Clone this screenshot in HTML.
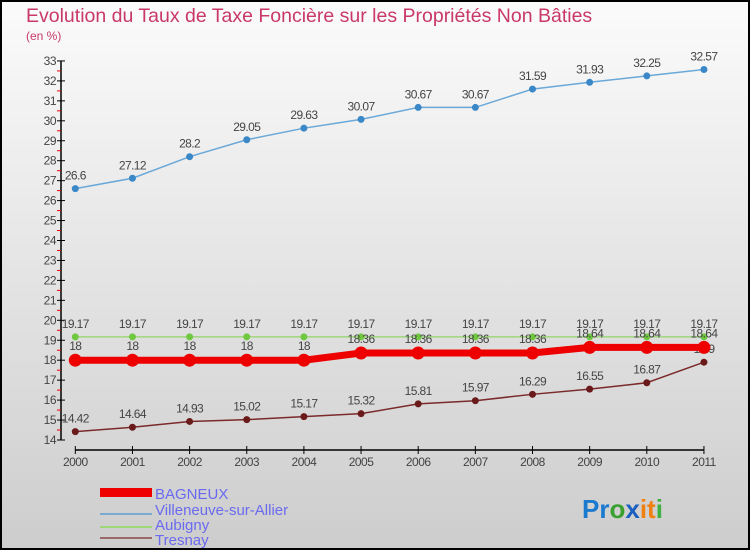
<!DOCTYPE html>
<html><head><meta charset="utf-8"><style>
body{margin:0;width:750px;height:550px;overflow:hidden}
svg{display:block;font-family:"Liberation Sans","DejaVu Sans",sans-serif}
</style></head><body>
<svg id="c" width="750" height="550">
<defs><linearGradient id="bg" x1="0" y1="0" x2="0" y2="1"><stop offset="0" stop-color="#fbfbfb"/><stop offset="1" stop-color="#cdcdcd"/></linearGradient></defs>
<rect x="1" y="1" width="748" height="548" fill="url(#bg)" stroke="#000" stroke-width="2"/>
<text x="26" y="22" font-size="19.5" fill="#c8386a">Evolution du Taux de Taxe Foncière sur les Propriétés Non Bâties</text>
<text x="26" y="40" font-size="12" fill="#c8386a">(en %)</text>
<g id="axes"></g><g id="series"></g>
<g>
<rect x="100" y="488" width="52" height="9" fill="#e00"/>
<text x="155" y="499" font-size="15" fill="#6a6af0">BAGNEUX</text>
<line x1="100" y1="514" x2="152" y2="514" stroke="#7aaad0" stroke-width="2"/>
<text x="155" y="515" font-size="15" fill="#6a6af0">Villeneuve-sur-Allier</text>
<line x1="100" y1="527" x2="152" y2="527" stroke="#9ed67a" stroke-width="2"/>
<text x="155" y="530" font-size="15" fill="#6a6af0">Aubigny</text>
<line x1="100" y1="538" x2="152" y2="538" stroke="#9a6a6a" stroke-width="2"/>
<text x="155" y="545" font-size="15" fill="#6a6af0">Tresnay</text>
</g>
<g font-size="26" font-weight="bold">
<text x="582" y="518"><tspan fill="#1a7ad0">Pr</tspan><tspan fill="#3aa030">o</tspan><tspan fill="#1a60c0">x</tspan><tspan fill="#f08010">it</tspan><tspan fill="#40b040">i</tspan></text>
</g>
</svg>
<script>
const years=["2000","2001","2002","2003","2004","2005","2006","2007","2008","2009","2010","2011"];
const yTicks=[14,15,16,17,18,19,20,21,22,23,24,25,26,27,28,29,30,31,32,33];
const bagneux=[18,18,18,18,18,18.36,18.36,18.36,18.36,18.64,18.64,18.64];
const bagneuxLabels=["18","18","18","18","18","18.36","18.36","18.36","18.36","18.64","18.64","18.64"];
const villeneuve=[26.6,27.12,28.2,29.05,29.63,30.07,30.67,30.67,31.59,31.93,32.25,32.57];
const aubigny=[19.17,19.17,19.17,19.17,19.17,19.17,19.17,19.17,19.17,19.17,19.17,19.17];
const tresnay=[14.42,14.64,14.93,15.02,15.17,15.32,15.81,15.97,16.29,16.55,16.87,17.9];
const NS="http://www.w3.org/2000/svg";
const X=i=>75.3+i*57.15;
const Y=v=>440-(v-14)*19.95;
function mk(tag,at,parent){const e=document.createElementNS(NS,tag);for(const k in at)e.setAttribute(k,at[k]);parent.appendChild(e);return e;}
const ax=document.getElementById('axes');
const yl=mk('line',{x1:61,y1:Y(33),x2:61,y2:Y(14),stroke:'#000','stroke-width':1.5},ax);


yTicks.forEach(t=>{
 mk('line',{x1:57,y1:Y(t),x2:65,y2:Y(t),stroke:'#000'},ax);
 if(t<33) mk('line',{x1:57,y1:Y(t+0.5),x2:61,y2:Y(t+0.5),stroke:'#e00'},ax);
 const tx=mk('text',{x:56,y:Y(t)+4,'font-size':12,fill:'#444','text-anchor':'end','letter-spacing':'-0.5'},ax);
 tx.textContent=t;
 
 
});
const xl=mk('line',{x1:X(0),y1:450,x2:X(11),y2:450,stroke:'#000','stroke-width':1.5},ax);


years.forEach((y,i)=>{
 mk('line',{x1:X(i),y1:446,x2:X(i),y2:454,stroke:'#000'},ax);
 const tx=mk('text',{x:X(i),y:466,'font-size':12,fill:'#444','text-anchor':'middle','letter-spacing':'-0.5'},ax);
 tx.textContent=y;
 
 
});
const sg=document.getElementById('series');
function series(name,vals,labels,color,w,r,dot,dy){
 const g=mk('g',{},sg);
 
 
 const pl=mk('polyline',{points:vals.map((v,i)=>X(i)+','+Y(v)).join(' '),fill:'none',stroke:color,'stroke-width':w},g);
 
 
 vals.forEach((v,i)=>{
  const c=mk('circle',{cx:X(i),cy:Y(v),r:r,fill:dot},g);
  
  
  const t=mk('text',{x:X(i),y:Y(v)+dy,'font-size':12,fill:'#444','text-anchor':'middle','letter-spacing':'-0.6'},g);
  t.textContent=labels?labels[i]:String(v);
  
  
 });
}
series('villeneuve',villeneuve,null,'#6aa8d8',1.5,3.5,'#3a88c8',-9);
series('aubigny',aubigny,null,'#9ed67a',1.5,3.5,'#70c840',-9);
series('tresnay',tresnay,null,'#7a2a2a',1.5,3.5,'#6a1a1a',-9);
series('bagneux',bagneux,bagneuxLabels,'#ee0000',7,6.5,'#ee0000',-10);
</script>
</body></html>
